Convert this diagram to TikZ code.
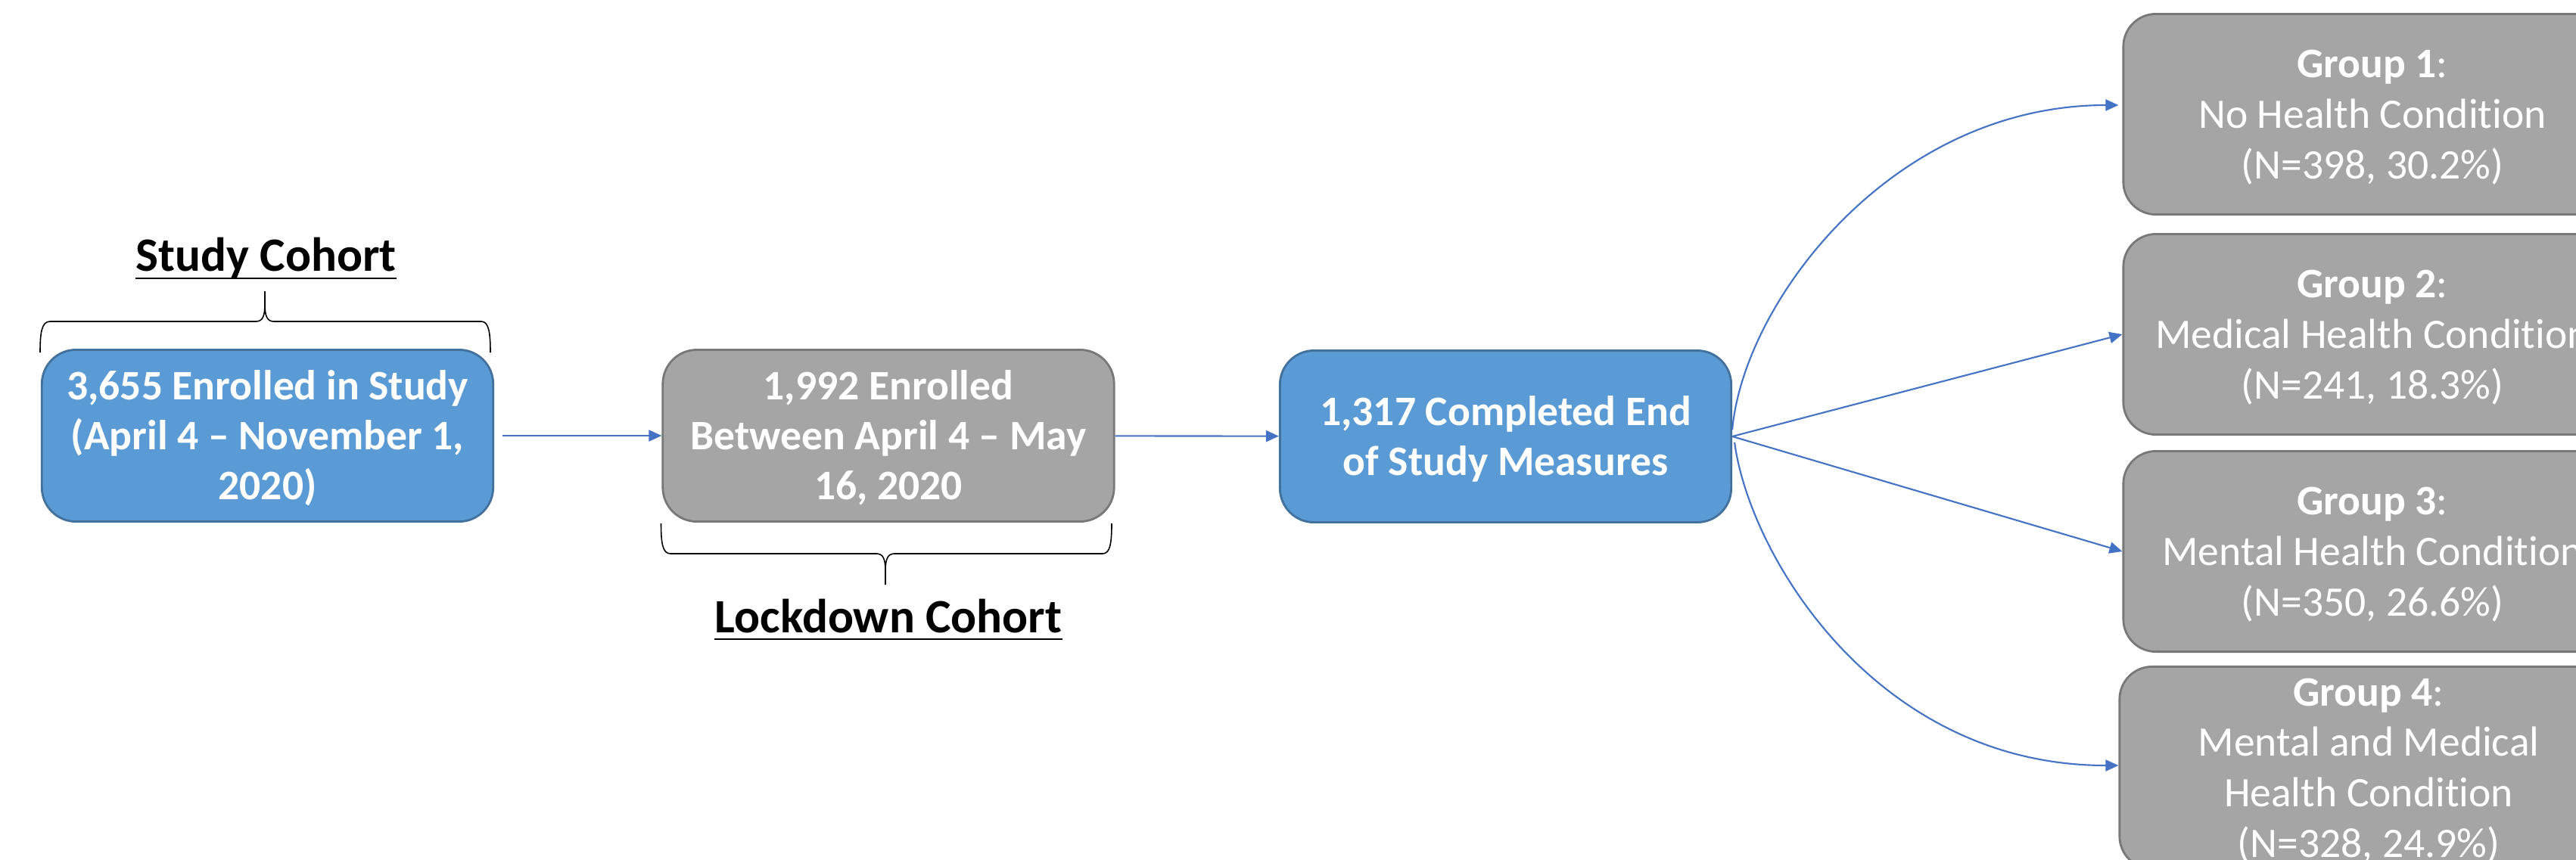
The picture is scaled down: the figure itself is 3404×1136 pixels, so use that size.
\documentclass[tikz,border=0pt]{standalone}
\usepackage{fontspec}
\setmainfont{Carlito}[Ligatures={TeX,NoCommon}]
\usetikzlibrary{arrows.meta,calc}
\definecolor{bluefill}{HTML}{5B9BD5}
\definecolor{blueline}{HTML}{41719C}
\definecolor{grayfill}{HTML}{A5A5A5}
\definecolor{grayline}{HTML}{787878}
\definecolor{arrowblue}{HTML}{4472C4}
\newcommand{\btext}[1]{\raisebox{-0.05cm}[\height][\depth]{\begin{tabular}{@{}c@{}}#1\end{tabular}}}
\tikzset{
  boxbase/.style={line width=0.8pt, inner sep=0pt, align=center, text=white},
  bluebox/.style={boxbase, draw=blueline, fill=bluefill, rounded corners=0.45cm,
    minimum width=5.96cm, minimum height=2.27cm,
    font=\bfseries\fontsize{15.8}{18.8}\selectfont},
  graybox/.style={boxbase, draw=grayline, fill=grayfill, rounded corners=0.45cm,
    minimum width=5.96cm, minimum height=2.27cm,
    font=\bfseries\fontsize{15.8}{18.8}\selectfont},
  groupbox/.style={boxbase, draw=grayline, fill=grayfill, rounded corners=0.43cm,
    minimum width=6.58cm, minimum height=2.65cm,
    font=\fontsize{15.8}{19}\selectfont},
  cohort/.style={inner sep=0pt, anchor=base, font=\bfseries\fontsize{18}{21}\selectfont},
  uline/.style={line width=0.8pt},
  bracepath/.style={line width=0.45pt, black},
  arr/.style={draw=arrowblue, line width=0.6pt, -{Triangle[length=0.17cm, width=0.15cm]}}
}
\begin{document}
\begin{tikzpicture}[x=0.01cm, y=-0.01cm]
\useasboundingbox (0,0) rectangle (3404,1136);
\clip (0,0) rectangle (3404,1136);

% main boxes
\node[bluebox] (b1) at (353.5,576) {\btext{3,655 Enrolled in Study\\(April 4 -- November 1,\\2020)}};
\node[graybox] (b2) at (1174,576) {\btext{1,992 Enrolled\\Between April 4 -- May\\16, 2020}};
\node[bluebox] (b3) at (1989.5,577) {\btext{1,317 Completed End\\of Study Measures}};

% group boxes
\node[groupbox] (g1) at (3135,151) {\btext{\textbf{Group 1}:\\No Health Condition\\(N=398, 30.2\%)}};
\node[groupbox] (g2) at (3135,442) {\btext{\textbf{Group 2}:\\Medical Health Condition\\(N=241, 18.3\%)}};
\node[groupbox] (g3) at (3135,729) {\btext{\textbf{Group 3}:\\Mental Health Condition\\(N=350, 26.6\%)}};
\node[groupbox] (g4) at (3130,1015) {\btext{\textbf{Group 4}:\\Mental and Medical\\Health Condition\\(N=328, 24.9\%)}};

% cohort labels
\node[cohort] (sc) at (351.5,358) {Study Cohort};
\draw[uline] ($(sc.base west)+(0,10)$) -- ($(sc.base east)+(0,10)$);
\node[cohort] (lc) at (1174,836) {Lockdown Cohort};
\draw[uline] ($(lc.base west)+(0,9)$) -- ($(lc.base east)+(0,9)$);

% braces
\draw[bracepath] (53,466) .. controls (53,440) and (55,425) .. (66,425) -- (338,425)
  .. controls (347,425) and (350,418) .. (350,402) -- (350,385);
\draw[bracepath] (350,402) .. controls (350,418) and (353,425) .. (362,425) -- (636,425)
  .. controls (646,425) and (648,440) .. (648,466);
\draw[bracepath] (873.5,692) .. controls (873.5,718) and (875.5,732) .. (886,732) -- (1158,732)
  .. controls (1167,732) and (1170,739) .. (1170,755) -- (1170,773);
\draw[bracepath] (1170,755) .. controls (1170,739) and (1173,732) .. (1182,732) -- (1457,732)
  .. controls (1467,732) and (1469,718) .. (1469,692);

% connectors
\draw[arr, shorten <=0.11cm] (b1) -- (b2);
\draw[arr] (b2) -- (b3);
\coordinate (s1) at ($(b3.east)+(0,-9)$);
\coordinate (e1) at ($(g1.west)+(-5,-12)$);
\draw[arr] (s1) .. controls +(15,-168) and +(-300,0) .. (e1);
\draw[arr] (b3.east) -- (g2.west);
\draw[arr] (b3.east) -- (g3.west);
\coordinate (s4) at ($(b3.east)+(3,8)$);
\coordinate (e4) at ($(g4.west)+(0,-3)$);
\draw[arr] (s4) .. controls +(20,150) and +(-320,0) .. (e4);
\end{tikzpicture}
\end{document}
